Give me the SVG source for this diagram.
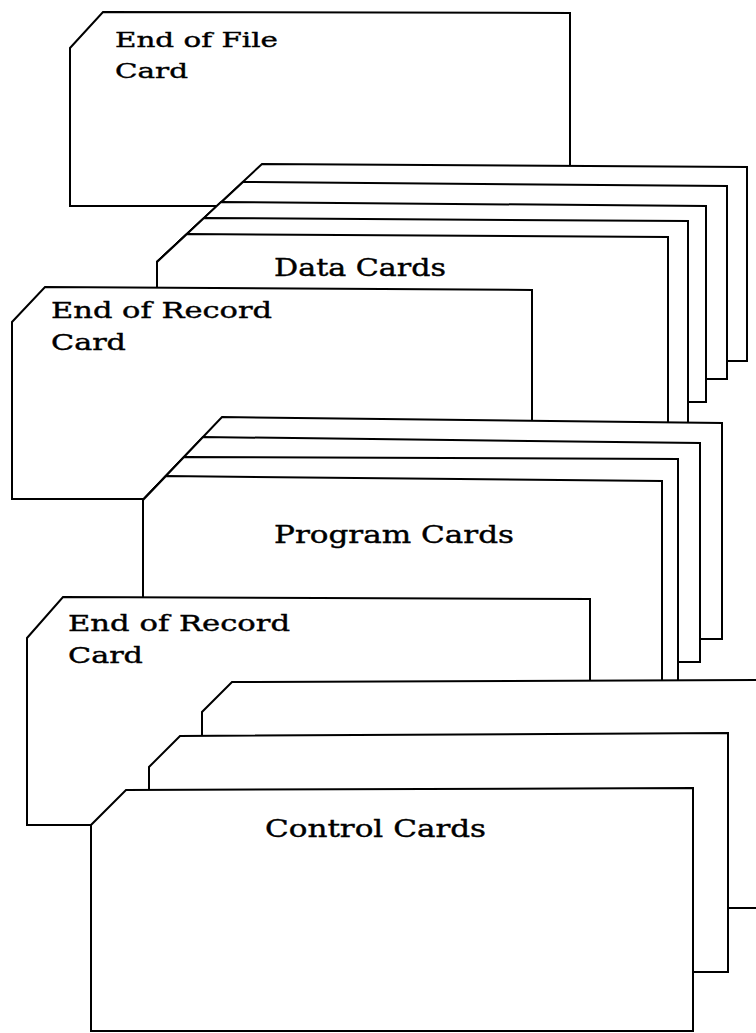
<svg xmlns="http://www.w3.org/2000/svg" width="756" height="1033" viewBox="0 0 756 1033">
  <style>
    .card { fill: #fff; stroke: #000; stroke-width: 2; stroke-linejoin: miter; }
    .lbl { font-family: "DejaVu Serif", "Liberation Serif", serif; fill: #000; stroke: #000; stroke-width: 0.4; }
    .sm { font-size: 21px; }
    .md { font-size: 22px; }
    .lg { font-size: 24px; }
  </style>
  <rect width="756" height="1033" fill="#fff"/>

  <!-- deck drawn back to front; each card is a white polygon with a clipped corner -->
  <g id="end-of-file-card">
    <polygon class="card" points="70,48 103,12 570,13 570,206 70,206"/>
    <text class="lbl sm" x="115" y="47" textLength="163" lengthAdjust="spacingAndGlyphs">End of File</text>
    <text class="lbl sm" x="115" y="78" textLength="73" lengthAdjust="spacingAndGlyphs">Card</text>
  </g>

  <g id="data-cards">
    <polygon class="card" points="157,361 157,262 262,164 747,167 747,361"/>
    <polygon class="card" points="157,379 157,262 243,182 727,186 727,379"/>
    <polygon class="card" points="157,402 157,262 221,202 706,206 706,402"/>
    <polygon class="card" points="157,470 157,262 204,218 688,221 688,470"/>
    <polygon class="card" points="157,470 157,262 187,234 668,237 668,470"/>
    <text class="lbl lg" x="274" y="276" textLength="172" lengthAdjust="spacingAndGlyphs">Data Cards</text>
  </g>

  <g id="end-of-record-card-1">
    <polygon class="card" points="12,322 45,287 532,290 532,499 12,499"/>
    <text class="lbl md" x="51" y="318" textLength="221" lengthAdjust="spacingAndGlyphs">End of Record</text>
    <text class="lbl md" x="51" y="350" textLength="75" lengthAdjust="spacingAndGlyphs">Card</text>
  </g>

  <g id="program-cards">
    <polygon class="card" points="143,639 143,500 222,417 722,423 722,639"/>
    <polygon class="card" points="143,662 143,500 203,437 700,443 700,662"/>
    <polygon class="card" points="143,700 143,500 184,457 678,459 678,700"/>
    <polygon class="card" points="143,700 143,500 166,476 662,481 662,700"/>
    <text class="lbl lg" x="274" y="543" textLength="240" lengthAdjust="spacingAndGlyphs">Program Cards</text>
  </g>

  <g id="end-of-record-card-2">
    <polygon class="card" points="27,638 63,597 590,599 590,825 27,825"/>
    <text class="lbl md" x="68" y="631" textLength="222" lengthAdjust="spacingAndGlyphs">End of Record</text>
    <text class="lbl md" x="68" y="663" textLength="75" lengthAdjust="spacingAndGlyphs">Card</text>
  </g>

  <g id="control-cards">
    <polygon class="card" points="202,908 202,712 232,682 770,680 770,908"/>
    <polygon class="card" points="149,972 149,767 180,736 728,733 728,972"/>
    <polygon class="card" points="91,1031 91,825 126,790 693,788 693,1031"/>
    <text class="lbl lg" x="265" y="837" textLength="221" lengthAdjust="spacingAndGlyphs">Control Cards</text>
  </g>
</svg>
